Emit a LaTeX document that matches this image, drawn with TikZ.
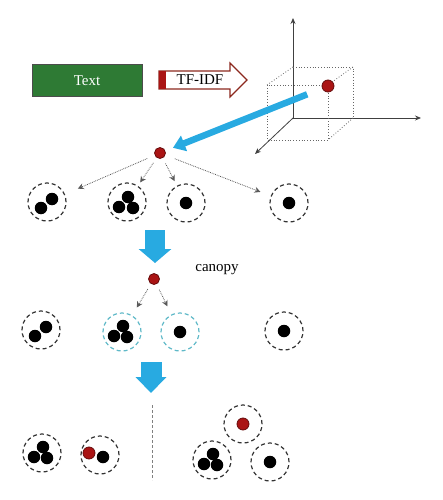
\documentclass[tikz,border=0pt]{standalone}
\usepackage{fontspec}
\setmainfont{Liberation Serif}
\usetikzlibrary{arrows.meta,positioning}
\definecolor{boxgreen}{RGB}{46,122,52}
\definecolor{dotred}{RGB}{170,20,20}
\definecolor{arrowred}{RGB}{140,40,30}
\definecolor{flowblue}{RGB}{40,170,225}
\definecolor{canopycyan}{RGB}{95,185,200}

\begin{document}
\begin{tikzpicture}[
    x=1pt, y=-1pt,
    every node/.style={font=\fontsize{15}{17}\selectfont},
    cluster/.style={circle, draw=black!80, dash pattern=on 4pt off 3pt, line width=1.2pt, minimum size=38pt, inner sep=0pt},
    canopyring/.style={cluster, draw=canopycyan},
    dot/.style={circle, fill=black, minimum size=12.5pt, inner sep=0pt},
    reddot/.style={circle, fill=dotred, draw=dotred!60!black, line width=0.8pt, minimum size=12pt, inner sep=0pt},
    axis/.style={-{Stealth[length=6pt,width=5pt]}, draw=black!75, line width=0.8pt},
    cube/.style={dotted, draw=black!60, line width=0.8pt},
    guide/.style={-{Stealth[length=6pt,width=6pt]}, densely dotted, draw=black!65, line width=0.8pt},
    flow/.style={-{Triangle[length=14pt,width=32pt]}, draw=flowblue, line width=20pt}
]
\useasboundingbox (0,0) rectangle (442,500);

% Text -> TF-IDF
\node[draw=black!70, fill=boxgreen, text=white, minimum width=110pt, minimum height=32pt, line width=1pt] (text) at (87,81) {Text};
\draw[arrowred, fill=white, line width=1.2pt] (159,71) -- (230,71) -- (230,63) -- (247,80) -- (230,97) -- (230,89) -- (159,89) -- cycle;
\fill[dotred] (159,71) rectangle (166,89);
\node (tfidf) at (200,80) {TF-IDF};

% vector space
\coordinate (origin) at (293,118);
\draw[axis] (origin) -- (293,18);
\draw[axis] (origin) -- (421,118);
\draw[axis] (origin) -- (255,154);
\draw[cube] (267,85) rectangle (328,140);
\draw[cube] (293,67) -- (353,67) -- (353,118);
\draw[cube] (293,67) -- (267,85) (353,67) -- (328,85) (353,118) -- (328,140);
\node[reddot] (vec) at (328,86) {};

% first level
\node[reddot, minimum size=11pt] (root) at (160,153) {};
\draw[flowblue, line width=6.5pt, -{Triangle[length=12pt,width=16pt]}, shorten <=16pt, shorten >=8pt] (vec) -- (root);

\node[cluster] (a1) at (47,202) {};
\node[cluster] (a2) at (127,202) {};
\node[cluster] (a3) at (186,203) {};
\node[cluster] (a4) at (289,203) {};
\node[dot] at ([shift={(-6,6)}]a1) {};
\node[dot] at ([shift={(5,-3)}]a1) {};
\node[dot] at ([shift={(1,-5)}]a2) {};
\node[dot] at ([shift={(-8,5)}]a2) {};
\node[dot] at ([shift={(6,6)}]a2) {};
\node[dot] at (a3) {};
\node[dot] at (a4) {};

\draw[guide, shorten <=8pt, shorten >=14pt] (root) -- (a1);
\draw[guide, shorten <=6pt, shorten >=4pt] (root) -- (a2);
\draw[guide, shorten <=6pt, shorten >=5pt] (root) -- (a3);
\draw[guide, shorten <=10pt, shorten >=11pt] (root) -- (a4);

% canopy level
\coordinate (flowA) at (155,230);
\coordinate (flowB) at (155,263);
\draw[flow] (flowA) -- (flowB);

\node[reddot, minimum size=11pt] (canopy) at (154,279) {};
\node (canopylabel) at (217,270) {canopy};

\node[cluster] (b1) at (41,330) {};
\node[canopyring] (b2) at (122,332) {};
\node[canopyring] (b3) at (180,332) {};
\node[cluster] (b4) at (284,331) {};
\node[dot] at ([shift={(-6,6)}]b1) {};
\node[dot] at ([shift={(5,-3)}]b1) {};
\node[dot] at ([shift={(1,-6)}]b2) {};
\node[dot] at ([shift={(-8,4)}]b2) {};
\node[dot] at ([shift={(5,5)}]b2) {};
\node[dot] at (b3) {};
\node[dot] at (b4) {};

\draw[guide, shorten <=6pt, shorten >=9pt] (canopy) -- (b2);
\draw[guide, shorten <=6pt, shorten >=9pt] (canopy) -- (b3);

% result
\coordinate (flowC) at (151,362);
\coordinate (flowD) at (151,393);
\draw[flow, line width=21pt, -{Triangle[length=16pt,width=30pt]}] (flowC) -- (flowD);

\coordinate (splitTop) at (152,405);
\coordinate (splitBot) at (152,480);
\draw[black!50, dash pattern=on 3pt off 2pt, line width=0.8pt] (splitTop) -- (splitBot);

\node[cluster] (c1) at (42,453) {};
\node[cluster] (c2) at (100,455) {};
\node[cluster] (c3) at (243,424) {};
\node[cluster] (c4) at (212,460) {};
\node[cluster] (c5) at (270,462) {};
\node[dot] at ([shift={(1,-6)}]c1) {};
\node[dot] at ([shift={(-8,4)}]c1) {};
\node[dot] at ([shift={(5,5)}]c1) {};
\node[reddot] at ([shift={(-11,-2)}]c2) {};
\node[dot] at ([shift={(3,2)}]c2) {};
\node[reddot] at (c3) {};
\node[dot] at ([shift={(1,-6)}]c4) {};
\node[dot] at ([shift={(-8,4)}]c4) {};
\node[dot] at ([shift={(5,5)}]c4) {};
\node[dot] at (c5) {};
\end{tikzpicture}
\end{document}
